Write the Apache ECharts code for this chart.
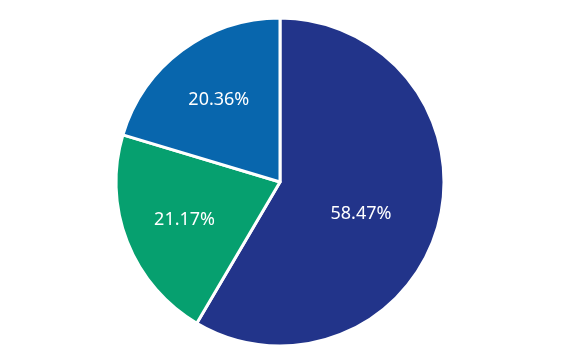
<!DOCTYPE html>
<html><head><meta charset="utf-8">
<script src="https://cdn.jsdelivr.net/npm/echarts@6/dist/echarts.min.js"></script>
<style>html,body{margin:0;padding:0;background:#fff}#c{width:565px;height:360px}</style>
</head><body><div id="c"></div>
<script>
const labels = ['58.47%', '21.17%', '20.36%'];
const values = [58.47, 21.17, 20.36];
const colors = ['#22348a', '#06a06f', '#0866ad'];

const chart = echarts.init(document.getElementById('c'), null, {renderer: 'canvas'});
const cx = 280, cy = 182, R = 164;
const total = values.reduce((a, b) => a + b, 0);
const mids = [];
let acc = 0;
values.forEach(v => { mids.push(90 - (acc + v / 2) / total * 360); acc += v; });
// label placement tweaks (radius fraction, angle offset in degrees)
const rf = [0.53, 0.625, 0.625];
const da = [-6, 0, 0];

chart.setOption({
  animation: false,
  series: [{
    type: 'pie',
    center: [cx, cy],
    radius: [0, R],
    startAngle: 90,
    clockwise: true,
    data: values.map((v, i) => ({ value: v, name: labels[i], itemStyle: { color: colors[i] } })),
    itemStyle: { borderColor: '#ffffff', borderWidth: 3 },
    label: {
      show: true, position: 'inside', formatter: '{b}',
      color: '#ffffff', fontSize: 18, fontFamily: 'Noto Sans',
      align: 'center', verticalAlign: 'middle'
    },
    labelLayout: function (p) {
      const i = p.dataIndex;
      const a = (mids[i] + da[i]) * Math.PI / 180;
      const r = R * rf[i];
      return { x: cx + r * Math.cos(a), y: cy - r * Math.sin(a), align: 'center', verticalAlign: 'middle' };
    },
    labelLine: { show: false },
    emphasis: { disabled: true }
  }]
});
</script></body></html>
